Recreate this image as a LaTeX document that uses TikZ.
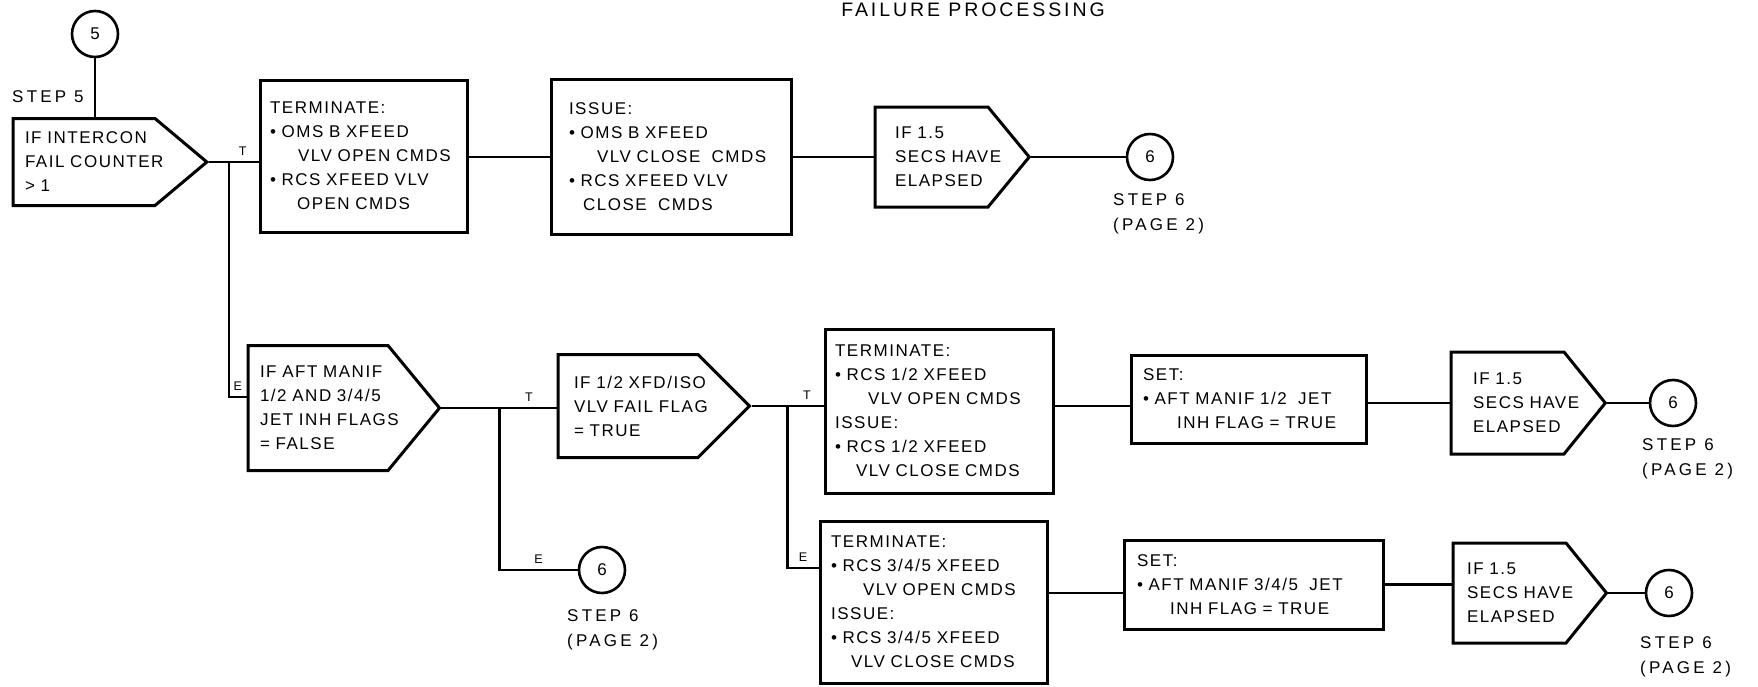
\documentclass[tikz,border=0pt]{standalone}
\usepackage{fontspec}
\setmainfont{Liberation Sans}[LetterSpace=9]
\newfontfamily\widefont{Liberation Sans}[LetterSpace=19]
\newfontfamily\titlefont{Liberation Sans}[LetterSpace=15]
\usepackage{tikz}
\usetikzlibrary{shapes.symbols,calc}
\newcommand{\row}[2][0]{\mbox{\hspace*{#1pt}#2}}

\begin{document}
\begin{tikzpicture}[
  x=1pt, y=-1pt,
  font=\fontsize{17}{24}\selectfont,
  blk/.style={draw, line width=3pt, rectangle, align=left, inner ysep=0pt},
  decide/.style={draw, line width=3pt, shape=signal, signal to=east, align=left, inner ysep=0pt},
  conn/.style={draw, circle, line width=2.6pt, minimum size=46pt, inner sep=0pt},
  wire/.style={line width=2.6pt},
  lbl/.style={font=\fontsize{12.5}{14}\selectfont, inner sep=2pt},
  steplbl/.style={font=\widefont\fontsize{17}{25.5}\selectfont, align=left, inner sep=0pt},
]
\useasboundingbox (0,0) rectangle (1758,686);
\node[font=\titlefont\fontsize{19.5}{24}\selectfont, anchor=base] (title) at (973,16) {FAILURE PROCESSING};
% ---------------- step 5: intercon fail counter ----------------
\node[conn] (c5) at (95,34) {5};
\node[steplbl, anchor=west] (step5) at (12,97) {STEP 5};
\node[decide, text width=118pt, inner xsep=12pt, minimum height=87pt, signal pointer angle=80] (d1) at (84,162)
  {\row{IF INTERCON}\\\row{FAIL COUNTER}\\\row{> 1}};
\node[blk, text width=187pt, inner xsep=10pt, minimum height=152pt] (t1) at (363.5,156)
  {\row{TERMINATE:}\\\row{\textbullet\ OMS B XFEED}\\\row[28]{VLV OPEN CMDS}\\\row{\textbullet\ RCS XFEED VLV}\\\row[27]{OPEN CMDS}};
\node[blk, text width=204pt, inner xsep=18pt, minimum height=155pt] (i1) at (671,157)
  {\row{ISSUE:}\\\row{\textbullet\ OMS B XFEED}\\\row[28]{VLV CLOSE\ \ CMDS}\\\row{\textbullet\ RCS XFEED VLV}\\\row[14]{CLOSE\ \ CMDS}};
\node[decide, text width=73pt, inner xsep=20pt, minimum height=100pt, signal pointer angle=101] (d2) at (931.5,157)
  {\row{IF 1.5}\\\row{SECS HAVE}\\\row{ELAPSED}};
\node[conn] (c6a) at (1150,157) {6};
\node[steplbl, anchor=north west] (step6a) at (1113,193) {STEP 6\\(PAGE 2)};
% ---------------- aft manifold jet inhibit flags ----------------
\node[decide, text width=116pt, inner xsep=12pt, minimum height=125pt, signal pointer angle=101] (d3) at (318,408)
  {\row{IF AFT MANIF}\\\row{1/2 AND 3/4/5}\\\row{JET INH FLAGS}\\\row{= FALSE}};
\node[conn] (c6b) at (602,570) {6};
\node[steplbl, anchor=north west] (step6b) at (567,609) {STEP 6\\(PAGE 2)};
\node[decide, text width=108pt, inner xsep=16pt, minimum height=103pt, signal pointer angle=90] (d4) at (628,406)
  {\row{IF 1/2 XFD/ISO}\\\row{VLV FAIL FLAG}\\\row{= TRUE}};
% ---------------- 1/2 and 3/4/5 xfeed valves ----------------
\node[blk, text width=208pt, inner xsep=10pt, minimum height=164pt] (t2) at (939,411)
  {\row{TERMINATE:}\\\row{\textbullet\ RCS 1/2 XFEED}\\\row[33]{VLV OPEN CMDS}\\\row{ISSUE:}\\\row{\textbullet\ RCS 1/2 XFEED}\\\row[21]{VLV CLOSE CMDS}};
\node[blk, text width=205pt, inner xsep=11pt, minimum height=162pt] (t3) at (933.5,602)
  {\row{TERMINATE:}\\\row{\textbullet\ RCS 3/4/5 XFEED}\\\row[32]{VLV OPEN CMDS}\\\row{ISSUE:}\\\row{\textbullet\ RCS 3/4/5 XFEED}\\\row[20]{VLV CLOSE CMDS}};
\node[blk, text width=211pt, inner xsep=12pt, minimum height=88pt] (s1) at (1248.5,399)
  {\row{SET:}\\\row{\textbullet\ AFT MANIF 1/2\ \ JET}\\\row[34]{INH FLAG = TRUE}};
\node[blk, text width=233pt, inner xsep=13pt, minimum height=89pt] (s2) at (1253.5,584.5)
  {\row{SET:}\\\row{\textbullet\ AFT MANIF 3/4/5\ \ JET}\\\row[33]{INH FLAG = TRUE}};
\node[decide, text width=69pt, inner xsep=22pt, minimum height=102pt, signal pointer angle=102] (d5) at (1507.5,403)
  {\row{IF 1.5}\\\row{SECS HAVE}\\\row{ELAPSED}};
\node[decide, text width=85pt, inner xsep=14pt, minimum height=100pt, signal pointer angle=102] (d6) at (1509.5,593)
  {\row{IF 1.5}\\\row{SECS HAVE}\\\row{ELAPSED}};
\node[conn] (c6c) at (1673,403) {6};
\node[steplbl, anchor=north west] (step6c) at (1642,438) {STEP 6\\(PAGE 2)};
\node[conn] (c6d) at (1669,593) {6};
\node[steplbl, anchor=north west] (step6d) at (1640,636) {STEP 6\\(PAGE 2)};
% ---------------- connectors ----------------
\coordinate (br1) at ([xshift=20pt]d1.east);
\coordinate (br2) at ([xshift=58pt]d3.east);
\coordinate (br3) at ([xshift=36pt]d4.east);
\draw[wire] (c5.south) -- (c5.south |- d1.north);
\draw[wire] (d1.east) -- node[lbl, above=3pt, pos=0.68]{T} (d1.east -| t1.west);
\draw[wire] (br1) |- node[lbl, above=3pt, pos=0.75]{E} ([yshift=11pt]d3.west);
\draw[wire] (t1.east |- d2.west) -- (i1.west |- d2.west);
\draw[wire] (i1.east |- d2.west) -- (d2.west);
\draw[wire] (d2.east) -- (c6a.west);
\draw[wire] (d3.east) -- node[lbl, above=3pt, pos=0.76]{T} (d3.east -| d4.west);
\draw[wire] (br2) |- node[lbl, above=3pt, pos=0.75]{E} (c6b.west);
\draw[wire] (d4.east) -- node[lbl, above=3pt, pos=0.77]{T} (d4.east -| t2.west);
\draw[wire] (br3) |- node[lbl, above=3pt, pos=0.75]{E} ([yshift=34pt]t3.west);
\draw[wire] (t2.east |- d4.east) -- (s1.west |- d4.east);
\draw[wire] (s1.east |- d5.west) -- (d5.west);
\draw[wire] (d5.east) -- (c6c.west);
\draw[wire] (t3.east |- d6.east) -- (s2.west |- d6.east);
\draw[wire] (s2.east) -- (s2.east -| d6.west);
\draw[wire] (d6.east) -- (c6d.west);
\end{tikzpicture}
\end{document}
